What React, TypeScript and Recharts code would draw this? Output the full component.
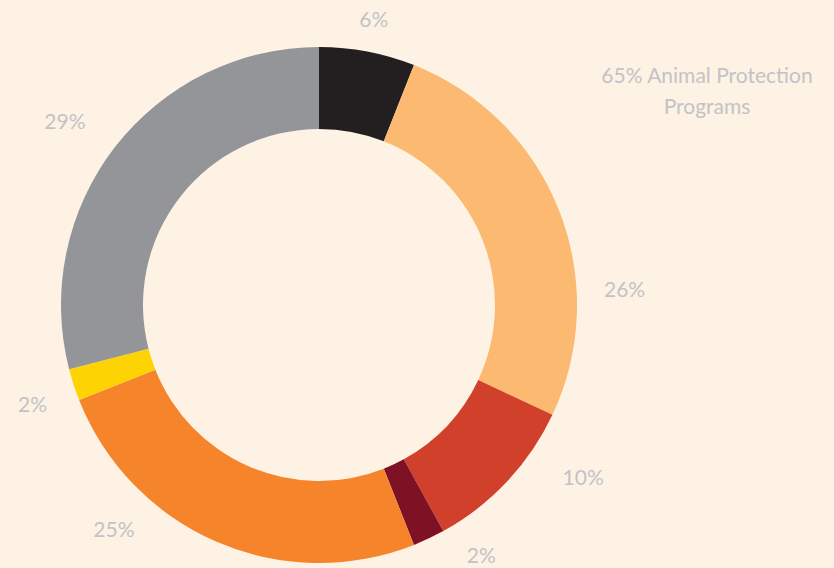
import { PieChart, Pie, Cell } from 'recharts'

const categories = ['Other A', 'Program A', 'Program B', 'Program C', 'Program D', 'Program E', 'Other B']
const shares = [6, 26, 10, 2, 25, 2, 29]
const colors = ['#231f20', '#fbb971', '#d0402a', '#7e1124', '#f5842b', '#fed304', '#939598']
const noteLines = ['65% Animal Protection', 'Programs']

const data = categories.map((name, i) => ({ name, value: shares[i] }))

// where each percentage label sits: angle clockwise from 12 o'clock, distance from centre
const labelSpots: [number, number][] = [
  [10.8, 292],
  [87, 306],
  [123, 315],
  [147, 298],
  [222.6, 303],
  [251, 303],
  [306, 314],
]

const LABEL_COLOR = '#c3c3c7'
const FONT = 'Lato, "Noto Sans", sans-serif'

function renderLabel(props: any) {
  const { cx, cy, index, value } = props
  const [deg, r] = labelSpots[index]
  const a = (deg * Math.PI) / 180
  const x = cx + r * Math.sin(a)
  const y = cy - r * Math.cos(a)
  return (
    <text
      x={x}
      y={y}
      fill={LABEL_COLOR}
      fontSize={21}
      fontFamily={FONT}
      textAnchor="middle"
      dominantBaseline="central"
    >
      {`${value}%`}
    </text>
  )
}

export default function App() {
  return (
    <div
      style={{
        position: 'absolute',
        left: 0,
        top: 0,
        width: 834,
        height: 568,
        background: '#fdf2e4',
        overflow: 'hidden',
      }}
    >
      <PieChart width={834} height={568} margin={{ top: 0, right: 0, bottom: 0, left: 0 }}>
        <Pie
          data={data}
          dataKey="value"
          nameKey="name"
          cx={319}
          cy={305}
          innerRadius={176}
          outerRadius={258}
          startAngle={90}
          endAngle={-270}
          stroke="none"
          label={renderLabel}
          labelLine={false}
          isAnimationActive={false}
        >
          {data.map((d, i) => (
            <Cell key={d.name} fill={colors[i]} />
          ))}
        </Pie>
      </PieChart>
      <div
        style={{
          position: 'absolute',
          left: 580,
          top: 59,
          width: 254,
          textAlign: 'center',
          color: LABEL_COLOR,
          fontFamily: FONT,
          fontSize: 21,
          lineHeight: '31px',
        }}
      >
        {noteLines.map((l) => (
          <div key={l}>{l}</div>
        ))}
      </div>
    </div>
  )
}
